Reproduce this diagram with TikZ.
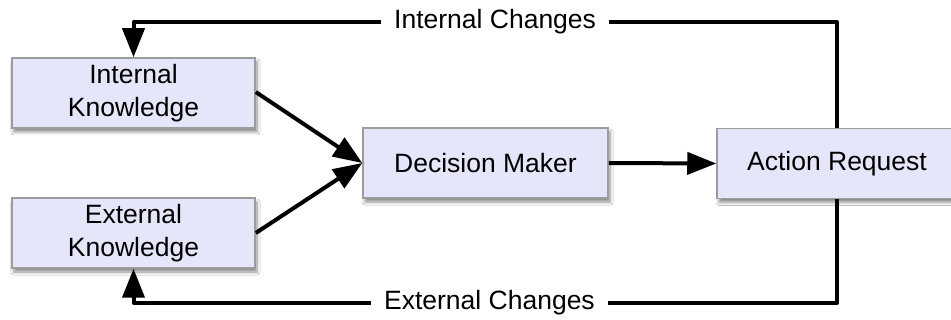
\documentclass[tikz,border=0pt]{standalone}
\usepackage{fontspec}
\setmainfont{Liberation Sans}
\usetikzlibrary{arrows.meta,shadows.blur}
\definecolor{boxfill}{HTML}{E6E6FA}
\definecolor{boxline}{HTML}{9C9C9C}
\tikzset{
  block/.style={draw=boxline, line width=1.5pt, fill=boxfill,
    minimum height=70pt, align=center, inner sep=0pt,
    font=\fontsize{26.5}{33}\selectfont,
    blur shadow={shadow xshift=2pt, shadow yshift=-4pt,
      shadow blur steps=6, shadow blur radius=3pt, shadow opacity=45}},
  flow/.style={line width=4pt, line join=round},
  arrowflow/.style={flow, -{Triangle[length=29pt,width=22pt]}},
  gap/.style={fill=white, inner xsep=13pt, inner ysep=2pt,
    font=\fontsize{26.5}{33}\selectfont},
}
\begin{document}
\begin{tikzpicture}[x=1pt,y=-1pt]
  \useasboundingbox (0,0) rectangle (951,320);
  \clip (0,0) rectangle (951,320);
  \fill[white] (0,0) rectangle (951,320);

  % blocks
  \node[block, minimum width=243pt] (ik) at (133.5,93)  {Internal\\Knowledge};
  \node[block, minimum width=243pt] (ek) at (133.5,233) {External\\Knowledge};
  \node[block, minimum width=245pt] (dm) at (485.5,163) {Decision Maker};
  \node[block, minimum width=240pt] (ar) at (837,163.5) {Action Request};

  % feedback rails
  \coordinate (top) at (0,22);
  \coordinate (bot) at (0,303);

  % knowledge into the decision maker
  \draw[arrowflow] (ik.east) ++(0,-1) -- (dm.west);
  \draw[arrowflow] (ek.east) -- (dm.west);
  \draw[arrowflow] (dm.east) -- (ar.west);

  % internal loop back to internal knowledge
  \draw[arrowflow] (ar.north) -- (ar.north |- top)
    -- node[gap, pos=0.486] {Internal Changes} (ik.north |- top)
    -- (ik.north);

  % external loop back to external knowledge
  \draw[arrowflow] (ar.south) -- (ar.south |- bot)
    -- node[gap, pos=0.494] {External Changes} (ek.south |- bot)
    -- (ek.south);
\end{tikzpicture}
\end{document}
